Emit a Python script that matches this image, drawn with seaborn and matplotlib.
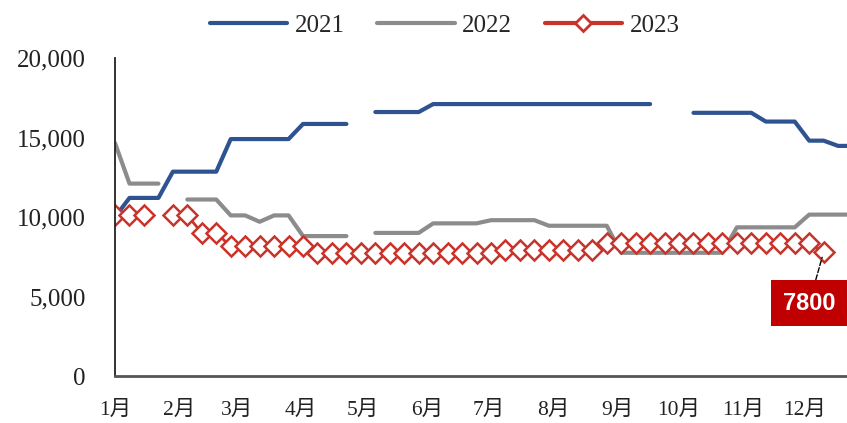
import matplotlib
matplotlib.use('Agg')
import matplotlib.pyplot as plt
from matplotlib.lines import Line2D
from matplotlib.ticker import FuncFormatter
import seaborn as sns
import pandas as pd
import numpy as np

nan = np.nan

# weekly values, week 0 = start of January
y2021 = [10000, 11200, 11200, 11200, 12850, 12850, 12850, 12850,
         14900, 14900, 14900, 14900, 14900, 15850, 15850, 15850, 15850,
         nan, 16600, 16600, 16600, 16600] + [17100] * 16 + \
        [nan, nan] + [16550] * 5 + [16000] * 3 + [14800, 14800, 14470, 14470]
y2022 = [14650, 12100, 12100, 12100, nan, 11100, 11100, 11100,
         10100, 10100, 9700, 10100, 10100, 8800, 8800, 8800, 8800, nan,
         9000, 9000, 9000, 9000, 9600, 9600, 9600, 9600,
         9800, 9800, 9800, 9800] + [9450] * 5 + [7750] * 8 + [9350] * 5 + [10150] * 4
y2023 = [10100, 10100, 10100, nan, 10100, 10100, 9000, 9000] + [8150] * 6 + \
        [7750] * 13 + [7950] * 7 + [8350] * 15 + [7800, nan, nan]

years = ['2021', '2022', '2023']
month_labels = ['1月', '2月', '3月', '4月', '5月', '6月',
                '7月', '8月', '9月', '10月', '11月', '12月']
month_start_day = [0, 31, 59, 90, 120, 151, 181, 212, 243, 273, 304, 334]
last_value = 7800

colors = {'2021': '#2F5290', '2022': '#8C8C8C', '2023': '#C8332B'}

week = np.arange(len(y2021))
day = week * 7

rows = []
for yr, vals in zip(years, [y2021, y2022, y2023]):
    v = np.array(vals, dtype=float)
    seg = np.cumsum(np.isnan(v))  # break lines at gaps
    for d, val, s in zip(day, v, seg):
        rows.append({'day': d, 'value': val, 'year': yr, 'seg': s})
data = pd.DataFrame(rows)

sns.set_theme(style='white')
plt.rcParams['font.family'] = ['Liberation Serif', 'Noto Sans CJK SC', 'DejaVu Sans']

fig = plt.figure(figsize=(8.47, 4.23), dpi=100)
ax = fig.add_axes([0.1358, 0.111, 1 - 0.1358, 0.863 - 0.111])

d21 = data[data['year'] == '2021']
d22 = data[data['year'] == '2022']
d23 = data[data['year'] == '2023']

sns.lineplot(data=d22, x='day', y='value', units='seg', estimator=None,
             color=colors['2022'], lw=3, legend=False, ax=ax)
sns.lineplot(data=d21, x='day', y='value', units='seg', estimator=None,
             color=colors['2021'], lw=3, legend=False, ax=ax)
sns.lineplot(data=d23, x='day', y='value', units='seg', estimator=None,
             color=colors['2023'], lw=2, marker='D', markersize=10.5,
             markerfacecolor='white', markeredgecolor=colors['2023'],
             markeredgewidth=1.8, legend=False, ax=ax)

ax.set_xlim(0, 354.3)
ax.set_ylim(0, 20000)
ax.set_xticks(month_start_day)
ax.set_xticklabels(month_labels)
ax.set_yticks([0, 5000, 10000, 15000, 20000])
ax.yaxis.set_major_formatter(FuncFormatter(lambda v, p: f'{int(v):,}'))
ax.set_xlabel('')
ax.set_ylabel('')

for s in ['top', 'right']:
    ax.spines[s].set_visible(False)
ax.spines['left'].set_color('#222222')
ax.spines['left'].set_linewidth(1.3)
ax.spines['bottom'].set_color('#555555')
ax.spines['bottom'].set_linewidth(2)
ax.tick_params(axis='x', direction='out', length=5, width=1.3, color='#222222',
               pad=13, labelsize=15.5, labelcolor='#222222')
ax.tick_params(axis='y', direction='out', length=5, width=1.3, color='#222222',
               pad=16, labelsize=18, labelcolor='#222222')

# last value callout
last_day = day[np.where(~np.isnan(np.array(y2023, dtype=float)))[0][-1]]
ax.annotate(f'{last_value}', xy=(last_day, last_value), xytext=(336, 4590),
            textcoords='data', ha='center', va='center', color='white',
            fontsize=17, fontweight='bold', family='Liberation Sans',
            bbox=dict(boxstyle='square,pad=0.5', fc='#C00000', ec='none'),
            arrowprops=dict(arrowstyle='-', color='black', lw=1, ls='--',
                            shrinkA=0, shrinkB=4),
            annotation_clip=False)

handles = [Line2D([0], [0], color=colors['2021'], lw=3),
           Line2D([0], [0], color=colors['2022'], lw=3),
           Line2D([0], [0], color=colors['2023'], lw=3, marker='D', markersize=8,
                  markerfacecolor='white', markeredgecolor=colors['2023'],
                  markeredgewidth=2)]
fig.legend(handles, years, loc='center', bbox_to_anchor=(0.525, 0.94),
           ncol=3, frameon=False, fontsize=18, handlelength=3.1,
           handletextpad=0.3, columnspacing=1.3)

fig.savefig('out.png', dpi=100)
